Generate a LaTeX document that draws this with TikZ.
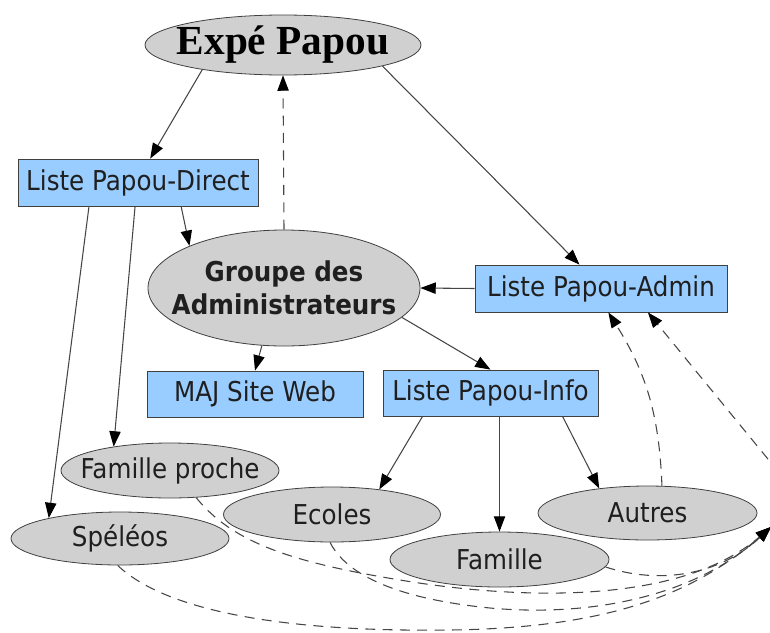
\documentclass[tikz,border=0pt]{standalone}
\usepackage{fontspec}
\usetikzlibrary{shapes.geometric,arrows.meta,backgrounds}
\newfontfamily\sansf[FakeStretch=0.9]{DejaVu Sans}
\newfontfamily\serifb{Liberation Serif}
\definecolor{boxblue}{RGB}{153,204,255}
\definecolor{ellgray}{RGB}{208,208,208}
\definecolor{linegray}{RGB}{70,70,70}
\tikzset{
  box/.style={rectangle, draw=black!75, fill=boxblue, inner sep=0pt, line width=0.6pt,
    font=\sansf\fontsize{20.5}{24.75}\selectfont, text=black!88},
  ell/.style={ellipse, draw=black!75, fill=ellgray, inner sep=0pt, line width=0.6pt},
  lbl/.style={inner sep=0pt, font=\sansf\fontsize{20.5}{24.75}\selectfont, text=black!88, align=center},
  conn/.style={draw=linegray, line width=0.8pt, -{Triangle[length=11.5pt,width=8.5pt,color=black]}},
  dconn/.style={conn, dash pattern=on 7.5pt off 5.5pt},
}
\begin{document}
\begin{tikzpicture}[x=0.75pt,y=-0.75pt]
\useasboundingbox (0,0) rectangle (770,632);
\clip (0,0) rectangle (770,632);

% ellipses
\node[ell, minimum width=207pt, minimum height=45pt,
  label={[lbl, font=\serifb\bfseries\fontsize{31}{36}\selectfont, text=black]center:Expé Papou}] (expe) at (283,45) {};
\node[ell, minimum width=204pt, minimum height=87pt,
  label={[lbl, font=\sansf\bfseries\fontsize{20.5}{24.75}\selectfont]center:Groupe des\\Administrateurs}] (groupe) at (284,288) {};
\node[ell, minimum width=163.5pt, minimum height=41.25pt, label={[lbl]center:Famille proche}] (fproche) at (170,470.5) {};
\node[ell, minimum width=163.5pt, minimum height=39.75pt, label={[lbl]center:Spéléos}] (speleos) at (120,538.5) {};
\node[ell, minimum width=162.75pt, minimum height=41.25pt, label={[lbl]center:Ecoles}] (ecoles) at (332,514.5) {};
\node[ell, minimum width=164.25pt, minimum height=41.25pt, label={[lbl]center:Famille}] (famille) at (499.5,559.5) {};
\node[ell, minimum width=164.25pt, minimum height=40.5pt, label={[lbl]center:Autres}] (autres) at (647.5,513) {};

% boxes
\node[box, minimum width=180pt, minimum height=35.25pt] (direct) at (138,182.5) {Liste Papou-Direct};
\node[box, minimum width=189pt, minimum height=35.25pt] (admin) at (601,288.5) {Liste Papou-Admin};
\node[box, minimum width=162pt, minimum height=34.5pt] (maj) at (255,394) {MAJ Site Web};
\node[box, minimum width=161.25pt, minimum height=34.5pt] (info) at (490.5,393) {Liste Papou-Info};

\coordinate (hub) at (771,527);
\coordinate (offr) at (790,486);

% solid connectors
\draw[conn] (expe.197) -- (direct.63);
\draw[conn] (expe.348) -- (admin.132);
\draw[conn] (direct.331) -- (groupe.156);
\draw[conn] (admin.west) -- (groupe.east);
\draw[conn] (groupe.249) -- (maj.north);
\draw[conn] (groupe.346) -- (info.north);
\draw[conn] (direct.206) -- (speleos.164);
\draw[conn] (direct.263) -- (fproche.157);
\draw[conn] (info.199) -- (ecoles.28);
\draw[conn] (famille.north |- info.south) -- (famille.north);
\draw[conn] (info.342) -- (autres.153);

% dashed connectors
\draw[dconn] (groupe.north) -- (expe.south);
\draw[dconn] (autres.62) to[bend right=15] (admin.287);
\draw[dconn] (offr) -- (admin.333);
\begin{scope}[on background layer]
\draw[dconn] (speleos.265) .. controls (170,615) and (300,632) .. (450,630)
  .. controls (600,628) and (690,598) .. (hub);
\draw[dconn] (fproche.314) .. controls (232,542) and (290,562) .. (400,580)
  .. controls (520,600) and (680,605) .. (hub);
\draw[dconn] (ecoles.266) .. controls (345,572) and (390,598) .. (490,608)
  .. controls (600,618) and (700,592) .. (hub);
\draw[dconn] (famille.356) .. controls (660,585) and (720,575) .. (hub);
\end{scope}
\end{tikzpicture}
\end{document}
